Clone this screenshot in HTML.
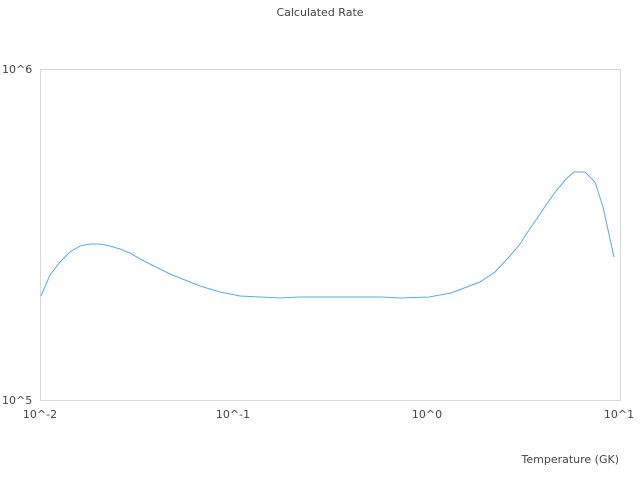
<!DOCTYPE html>
<html><head><style>body{margin:0;background:#fff}svg{display:block}text{font-family:"DejaVu Sans",sans-serif;font-size:11px;fill:#444}</style></head>
<body>
<svg width="640" height="480" xmlns="http://www.w3.org/2000/svg">
<text x="320" y="16" text-anchor="middle" font-size="12.5">Calculated Rate</text>
<rect x="40.5" y="69.5" width="580" height="331" fill="none" stroke="#d8d8d8" stroke-width="1"/>
<text x="2" y="73">10^6</text>
<text x="2" y="404">10^5</text>
<text x="40" y="418" text-anchor="middle">10^-2</text>
<text x="233" y="418" text-anchor="middle">10^-1</text>
<text x="427" y="418" text-anchor="middle">10^0</text>
<text x="619" y="418" text-anchor="middle">10^1</text>
<text x="619" y="463" text-anchor="end">Temperature (GK)</text>
<polyline fill="none" stroke="#5ba8f0" stroke-width="1" points="41,296 50,275 60,262 70,252 80,246 90,244 100,244 110,246 120,249 130,253 140,259 150,264 160,269 170,274 180,278 190,282 200,286 210,289 220,292 230,294 240,296 260,297 280,298 300,297 340,297 380,297 400,298 429,297 451,293 480,282 495,272 509,257 520,244 529,230 538,217 546,205 556,191 566,179 574,172 585,172 595,182 603,207 614,257"/>
</svg>
</body></html>
